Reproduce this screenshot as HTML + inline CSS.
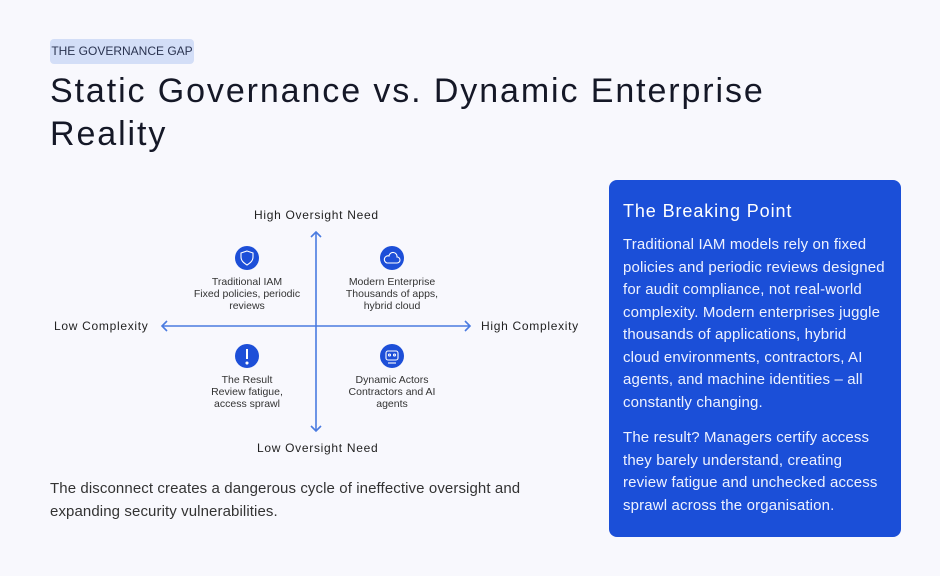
<!DOCTYPE html>
<html><head><style>
body{margin:0;width:940px;height:576px;background:#f8f8fd;font-family:"Liberation Sans",sans-serif;position:relative;overflow:hidden;color:#1a1a2e}
.a{position:absolute;white-space:nowrap}
.badge{left:50px;top:39px;width:144px;height:25px;background:#d3def7;border-radius:4px;font-size:12px;color:#2a3350;line-height:25px;text-align:center;letter-spacing:0px}
h1{position:absolute;left:50px;top:70px;margin:0;font-size:34px;font-weight:normal;line-height:43px;color:#151827;letter-spacing:1.9px}
.ax{font-size:12px;color:#222;letter-spacing:0.7px}
.q{position:absolute;width:140px;text-align:center;font-size:10.5px;line-height:12px;color:#333}
.ic{position:absolute;width:24px;height:24px;border-radius:50%;background:#1d4fd8}
.panel{position:absolute;left:609px;top:180px;width:292px;height:357px;background:#1b4fd8;border-radius:8px;color:#fff}
.panel h2{position:absolute;left:14px;top:20px;margin:0;font-size:18px;font-weight:normal;line-height:22px;letter-spacing:0.9px}
.panel p{position:absolute;left:14px;margin:0;white-space:nowrap;font-size:15px;line-height:22.5px;color:#eef2ff;letter-spacing:0.15px}
.bt{left:50px;top:478px;font-size:15px;line-height:22.5px;color:#333;letter-spacing:0.1px}
</style></head><body>
<div class="a badge">THE GOVERNANCE GAP</div>
<h1>Static Governance vs. Dynamic Enterprise<br>Reality</h1>

<svg class="a" style="left:0;top:0" width="600" height="460">
<g stroke="#4a7be0" stroke-width="1.6" fill="none">
<line x1="316" y1="232" x2="316" y2="431"/>
<line x1="162" y1="326" x2="470" y2="326"/>
<polyline points="311,237 316,232 321,237"/>
<polyline points="311,426 316,431 321,426"/>
<polyline points="167,321 162,326 167,331"/>
<polyline points="465,321 470,326 465,331"/>
</g>
</svg>
<div class="a ax" style="left:254px;top:208px">High Oversight Need</div>
<div class="a ax" style="left:257px;top:441px">Low Oversight Need</div>
<div class="a ax" style="left:54px;top:319px">Low Complexity</div>
<div class="a ax" style="left:481px;top:319px">High Complexity</div>

<div class="ic" style="left:235px;top:246px"></div>
<div class="ic" style="left:380px;top:246px"></div>
<div class="ic" style="left:235px;top:344px"></div>
<div class="ic" style="left:380px;top:344px"></div>
<svg class="a" style="left:0;top:0" width="600" height="460" fill="none" stroke="#fff" stroke-width="1.1">
<path d="M247,251 l6,2 v4 c0,4 -3,6 -6,8 c-3,-2 -6,-4 -6,-8 v-4 z"/>
<path d="M387,263 h10 a3,3 0 0 0 0,-6 a4,4 0 0 0 -8,-1 a3,3 0 0 0 -2,7 z"/>
<line x1="247" y1="349" x2="247" y2="359" stroke-width="2"/><circle cx="247" cy="363" r="1" fill="#fff"/>
<rect x="386" y="351" width="12" height="9" rx="2"/><circle cx="389.5" cy="355" r="1"/><circle cx="394.5" cy="355" r="1"/><path d="M388,363 h8"/>
</svg>
<div class="q" style="left:177px;top:276px">Traditional IAM<br>Fixed policies, periodic<br>reviews</div>
<div class="q" style="left:322px;top:276px">Modern Enterprise<br>Thousands of apps,<br>hybrid cloud</div>
<div class="q" style="left:177px;top:374px">The Result<br>Review fatigue,<br>access sprawl</div>
<div class="q" style="left:322px;top:374px">Dynamic Actors<br>Contractors and AI<br>agents</div>

<div class="a bt">The disconnect creates a dangerous cycle of ineffective oversight and<br>expanding security vulnerabilities.</div>

<div class="panel">
<h2>The Breaking Point</h2>
<p style="top:54px">Traditional IAM models rely on fixed<br>policies and periodic reviews designed<br>for audit compliance, not real-world<br>complexity. Modern enterprises juggle<br>thousands of applications, hybrid<br>cloud environments, contractors, AI<br>agents, and machine identities – all<br>constantly changing.</p>
<p style="top:247px">The result? Managers certify access<br>they barely understand, creating<br>review fatigue and unchecked access<br>sprawl across the organisation.</p>
</div>
</body></html>
